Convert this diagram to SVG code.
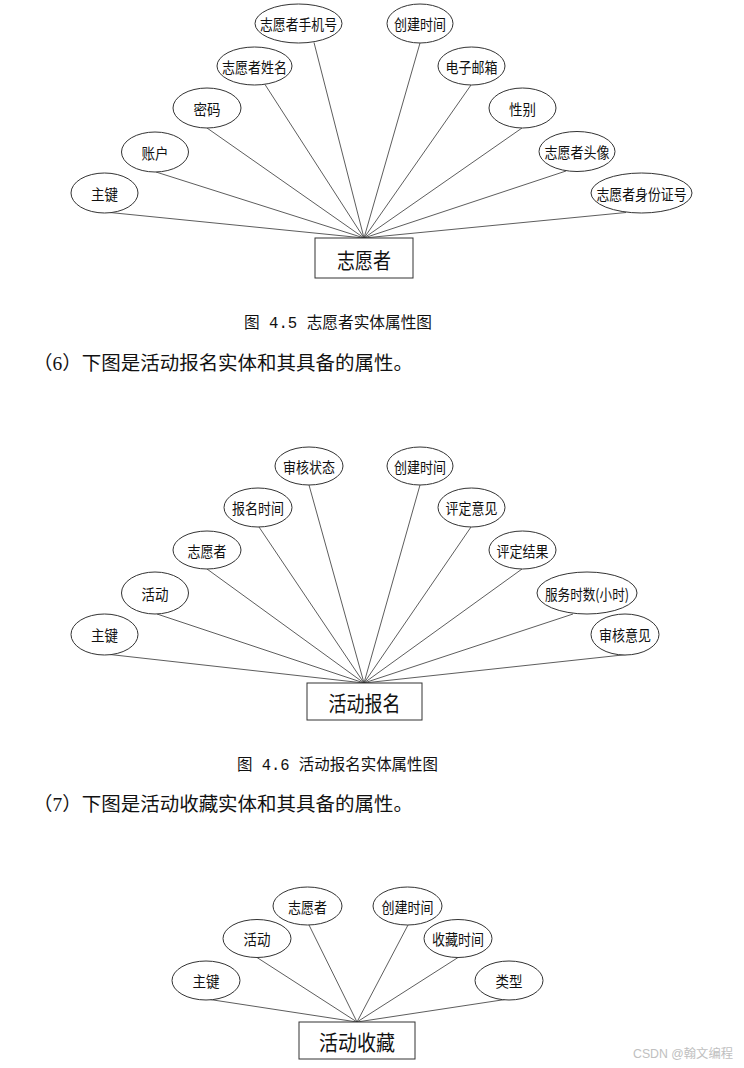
<svg xmlns="http://www.w3.org/2000/svg" width="744" height="1068" viewBox="0 0 744 1068">
<style>
.bg{fill:#ffffff}
.attr ellipse{fill:#ffffff;stroke:#333333;stroke-width:1}
.ent rect{fill:#ffffff;stroke:#333333;stroke-width:1}
.attr text{font-family:"Noto Sans CJK SC","Liberation Sans",sans-serif;font-size:15px;fill:#111111;text-anchor:middle;dominant-baseline:central}
.ent text{font-family:"Noto Sans CJK SC","Liberation Sans",sans-serif;font-size:21px;fill:#111111;text-anchor:middle;dominant-baseline:central}
.conn line{stroke:#333333;stroke-width:0.8}
.cap{font-family:"Liberation Mono","Noto Sans CJK SC",monospace;font-size:16px;fill:#111111;dominant-baseline:central}
.para{font-family:"Liberation Serif","Noto Sans CJK SC",serif;font-size:19px;fill:#111111;dominant-baseline:central}
.wm{font-family:"Liberation Sans","Noto Sans CJK SC",sans-serif;font-size:12px;fill:#c0c0c0;dominant-baseline:central}
</style>
<rect class="bg" x="0" y="0" width="744" height="1068"/>

<g id="connectors" class="conn">
<line x1="110" y1="212.5" x2="364" y2="238"/>
<line x1="156" y1="172" x2="364" y2="238"/>
<line x1="207" y1="128" x2="364" y2="238"/>
<line x1="265" y1="84.5" x2="364" y2="238"/>
<line x1="314" y1="42.5" x2="364" y2="238"/>
<line x1="420" y1="43" x2="364" y2="238"/>
<line x1="471" y1="85" x2="364" y2="238"/>
<line x1="522" y1="128" x2="364" y2="238"/>
<line x1="566" y1="171" x2="364" y2="238"/>
<line x1="626" y1="212.5" x2="364" y2="238"/>

<line x1="110" y1="654.5" x2="364" y2="683"/>
<line x1="157" y1="614" x2="364" y2="683"/>
<line x1="207" y1="569" x2="364" y2="683"/>
<line x1="259" y1="527" x2="364" y2="683"/>
<line x1="309" y1="485" x2="364" y2="683"/>
<line x1="420" y1="485" x2="364" y2="683"/>
<line x1="471" y1="527" x2="364" y2="683"/>
<line x1="522" y1="569" x2="364" y2="683"/>
<line x1="573" y1="614" x2="364" y2="683"/>
<line x1="627" y1="654.5" x2="364" y2="683"/>

<line x1="210" y1="999.5" x2="357" y2="1022"/>
<line x1="257" y1="957.5" x2="357" y2="1022"/>
<line x1="309" y1="925" x2="357" y2="1022"/>
<line x1="408" y1="925" x2="357" y2="1022"/>
<line x1="458" y1="957.5" x2="357" y2="1022"/>
<line x1="505" y1="999.5" x2="357" y2="1022"/>
</g>

<!-- Diagram 1 -->
<g id="v-entity" class="ent"><rect x="315" y="238" width="98" height="40"/><text x="364" y="258.5" textLength="54" lengthAdjust="spacingAndGlyphs">志愿者</text></g>
<g id="v-key" class="attr"><ellipse cx="104.5" cy="193" rx="33.5" ry="20"/><text x="104.5" y="193" textLength="27" lengthAdjust="spacingAndGlyphs">主键</text></g>
<g id="v-account" class="attr"><ellipse cx="155" cy="152" rx="33.5" ry="20"/><text x="155" y="152" textLength="27" lengthAdjust="spacingAndGlyphs">账户</text></g>
<g id="v-pwd" class="attr"><ellipse cx="207" cy="108" rx="34" ry="20"/><text x="207" y="108" textLength="27" lengthAdjust="spacingAndGlyphs">密码</text></g>
<g id="v-name" class="attr"><ellipse cx="254.5" cy="66" rx="37.5" ry="19"/><text x="254.5" y="66" textLength="65" lengthAdjust="spacingAndGlyphs">志愿者姓名</text></g>
<g id="v-phone" class="attr"><ellipse cx="298.5" cy="23.5" rx="43.5" ry="19.5"/><text x="298.5" y="23.5" textLength="77" lengthAdjust="spacingAndGlyphs">志愿者手机号</text></g>
<g id="v-created" class="attr"><ellipse cx="420" cy="23.5" rx="33" ry="19.5"/><text x="420" y="23.5" textLength="52" lengthAdjust="spacingAndGlyphs">创建时间</text></g>
<g id="v-email" class="attr"><ellipse cx="471.5" cy="66" rx="33.5" ry="19"/><text x="471.5" y="66" textLength="52" lengthAdjust="spacingAndGlyphs">电子邮箱</text></g>
<g id="v-gender" class="attr"><ellipse cx="522.5" cy="108" rx="33.5" ry="20"/><text x="522.5" y="108" textLength="27" lengthAdjust="spacingAndGlyphs">性别</text></g>
<g id="v-avatar" class="attr"><ellipse cx="577" cy="151.5" rx="38" ry="20"/><text x="577" y="151.5" textLength="65" lengthAdjust="spacingAndGlyphs">志愿者头像</text></g>
<g id="v-idcard" class="attr"><ellipse cx="641.5" cy="193" rx="50.5" ry="20"/><text x="641.5" y="193" textLength="90" lengthAdjust="spacingAndGlyphs">志愿者身份证号</text></g>

<text class="cap" x="244" y="324" textLength="188" lengthAdjust="spacingAndGlyphs">图 4.5 志愿者实体属性图</text>
<text class="para" x="33" y="363" textLength="380" lengthAdjust="spacingAndGlyphs">（6）下图是活动报名实体和其具备的属性。</text>

<!-- Diagram 2 -->
<g id="r-entity" class="ent"><rect x="307" y="683" width="115" height="37"/><text x="364.5" y="702" textLength="72" lengthAdjust="spacingAndGlyphs">活动报名</text></g>
<g id="r-key" class="attr"><ellipse cx="104.5" cy="634.5" rx="33.5" ry="20.5"/><text x="104.5" y="634.5" textLength="27" lengthAdjust="spacingAndGlyphs">主键</text></g>
<g id="r-activity" class="attr"><ellipse cx="155" cy="593" rx="33.5" ry="21"/><text x="155" y="593" textLength="27" lengthAdjust="spacingAndGlyphs">活动</text></g>
<g id="r-volunteer" class="attr"><ellipse cx="207" cy="550" rx="34" ry="19"/><text x="207" y="550" textLength="39" lengthAdjust="spacingAndGlyphs">志愿者</text></g>
<g id="r-signup" class="attr"><ellipse cx="258" cy="507.5" rx="34" ry="19.5"/><text x="258" y="507.5" textLength="52" lengthAdjust="spacingAndGlyphs">报名时间</text></g>
<g id="r-status" class="attr"><ellipse cx="309" cy="466" rx="34" ry="19"/><text x="309" y="466" textLength="52" lengthAdjust="spacingAndGlyphs">审核状态</text></g>
<g id="r-created" class="attr"><ellipse cx="420" cy="466" rx="33" ry="19"/><text x="420" y="466" textLength="52" lengthAdjust="spacingAndGlyphs">创建时间</text></g>
<g id="r-opinion" class="attr"><ellipse cx="471.5" cy="507.5" rx="33.5" ry="19.5"/><text x="471.5" y="507.5" textLength="52" lengthAdjust="spacingAndGlyphs">评定意见</text></g>
<g id="r-result" class="attr"><ellipse cx="522.5" cy="550" rx="33.5" ry="19"/><text x="522.5" y="550" textLength="52" lengthAdjust="spacingAndGlyphs">评定结果</text></g>
<g id="r-hours" class="attr"><ellipse cx="587" cy="593" rx="50" ry="21"/><text x="587" y="593" textLength="84" lengthAdjust="spacingAndGlyphs">服务时数(小时)</text></g>
<g id="r-review" class="attr"><ellipse cx="625" cy="634.5" rx="34" ry="20.5"/><text x="625" y="634.5" textLength="52" lengthAdjust="spacingAndGlyphs">审核意见</text></g>

<text class="cap" x="237" y="766" textLength="201" lengthAdjust="spacingAndGlyphs">图 4.6 活动报名实体属性图</text>
<text class="para" x="33" y="804" textLength="380" lengthAdjust="spacingAndGlyphs">（7）下图是活动收藏实体和其具备的属性。</text>

<!-- Diagram 3 -->
<g id="f-entity" class="ent"><rect x="299" y="1022" width="116" height="37"/><text x="357" y="1041" textLength="76" lengthAdjust="spacingAndGlyphs">活动收藏</text></g>
<g id="f-key" class="attr"><ellipse cx="206" cy="980.5" rx="34" ry="19.5"/><text x="206" y="980.5" textLength="27" lengthAdjust="spacingAndGlyphs">主键</text></g>
<g id="f-activity" class="attr"><ellipse cx="257" cy="938.5" rx="34" ry="19"/><text x="257" y="938.5" textLength="27" lengthAdjust="spacingAndGlyphs">活动</text></g>
<g id="f-volunteer" class="attr"><ellipse cx="307.5" cy="906" rx="34.5" ry="19"/><text x="307.5" y="906" textLength="39" lengthAdjust="spacingAndGlyphs">志愿者</text></g>
<g id="f-created" class="attr"><ellipse cx="407.5" cy="906" rx="34.5" ry="19"/><text x="407.5" y="906" textLength="52" lengthAdjust="spacingAndGlyphs">创建时间</text></g>
<g id="f-favtime" class="attr"><ellipse cx="458" cy="938.5" rx="34" ry="19"/><text x="458" y="938.5" textLength="52" lengthAdjust="spacingAndGlyphs">收藏时间</text></g>
<g id="f-type" class="attr"><ellipse cx="509" cy="980.5" rx="34" ry="19.5"/><text x="509" y="980.5" textLength="27" lengthAdjust="spacingAndGlyphs">类型</text></g>

<text class="wm" x="633" y="1054" textLength="100" lengthAdjust="spacingAndGlyphs">CSDN @翰文编程</text>
</svg>
